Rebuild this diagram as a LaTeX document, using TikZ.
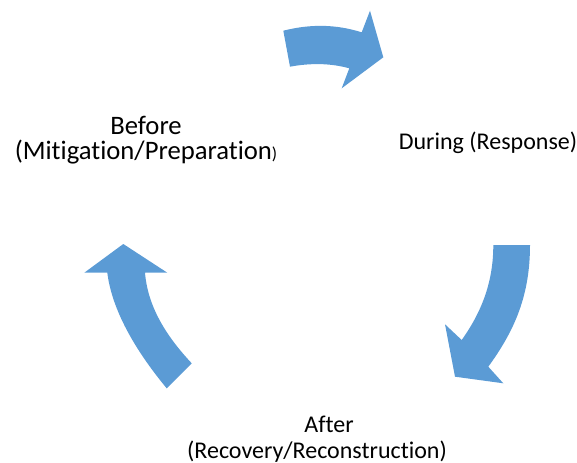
\documentclass[tikz,border=0pt]{standalone}
\usepackage{fontspec}
\setmainfont[Ligatures={NoCommon}]{Carlito}
\usepackage{tikz}

\tikzset{
  cyclearrow/.style={fill={rgb, 255:red, 91; green, 155; blue, 213 },draw=none},
  phase/.style={align=center,font=\fontsize{18}{19}\selectfont,inner sep=0pt}
}

\begin{document}
\begin{tikzpicture}[x=0.75pt,y=0.75pt,yscale=-1,xscale=1]
\useasboundingbox (0,0) rectangle (577,463);
%Curved Right Arrow [top]
\draw [cyclearrow] (283.3,30.7) .. controls (310,24) and (335,24) .. (361.7,32.3) -- (370,10.7) -- (383.3,57.3) -- (341.7,88.3) -- (349.3,68.3) .. controls (330,63) and (310,63) .. (290,66.7) -- cycle ;
%Curved Down Arrow [right]
\draw [cyclearrow] (493.3,245) -- (530,245) .. controls (530,295) and (515,330) .. (488.3,366.7) -- (503.3,383.3) -- (455,376.7) -- (445,324.3) -- (461.7,340) .. controls (483,310) and (493.3,280) .. (493.3,245) -- cycle ;
%Curved Up Arrow [left]
\draw [cyclearrow] (123.3,244) -- (167.3,272.7) -- (145,272.7) .. controls (148,310) and (170,340) .. (191.7,363.3) -- (166.7,388.3) .. controls (135,350) and (112,310) .. (107.3,272.7) -- (84.3,272.7) -- cycle ;
%Text
\node [phase,font=\fontsize{20}{19}\selectfont,anchor=base] (before) at (146,160) {Before\\(Mitigation/Preparation{\fontsize{13}{13}\selectfont )}};
\node [phase,anchor=base] (during) at (488,150) {During (Response)};
\node [phase,anchor=base] (after) at (317,458) {\hspace*{18pt}After\\(Recovery/Reconstruction)};
\end{tikzpicture}
\end{document}
